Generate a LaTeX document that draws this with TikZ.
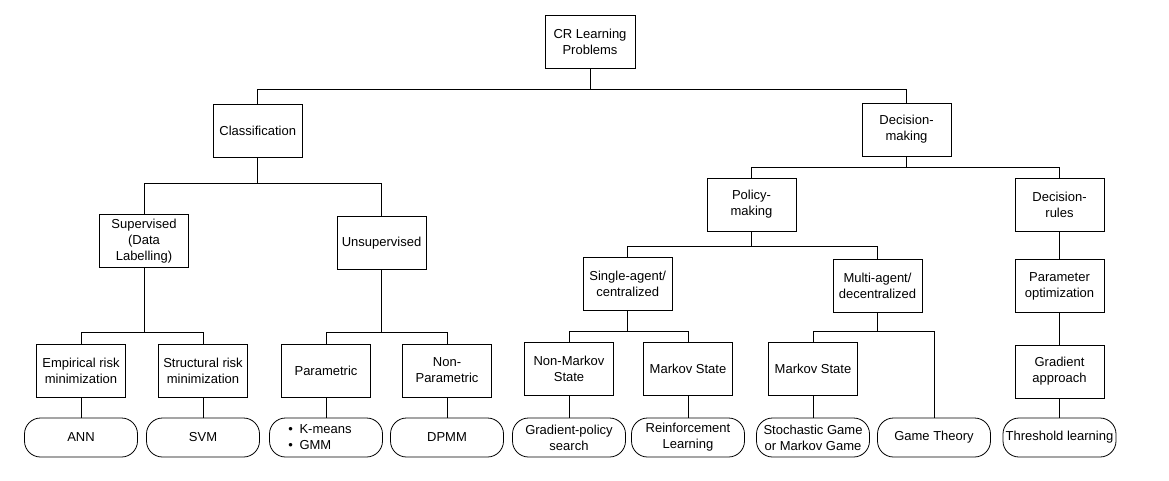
\documentclass[tikz,border=0pt]{standalone}
\usepackage{fontspec}
\setmainfont{Liberation Sans}
\begin{document}
\begin{tikzpicture}[x=1pt,y=-1pt,
  box/.style={draw, line width=0.8pt, minimum width=89pt, minimum height=53pt, inner sep=0pt, align=center, font=\fontsize{13}{16}\selectfont},
  leaf/.style={draw, line width=0.8pt, rounded corners=16pt, minimum width=113pt, minimum height=39pt, inner sep=0pt, align=center, font=\fontsize{13}{16}\selectfont},
  conn/.style={line width=0.8pt}]
\fill[white] (0,0) rectangle (1169,480);
\useasboundingbox (0,0) rectangle (1169,480);
% boxes
\node[box, minimum width=90pt] (root) at (590,41.5) {CR Learning\\Problems};
\node[box] (class) at (257.75,131) {Classification};
\node[box] (dm) at (906.5,129.5) {Decision-\\making};
\node[box] (sup) at (144,241) {Supervised\\(Data\\Labelling)};
\node[box] (unsup) at (381.5,243) {Unsupervised};
\node[box] (pm) at (751.5,204.5) {Policy-\\making};
\node[box] (dr) at (1059.5,204.5) {Decision-\\rules};
\node[box] (emp) at (81,370.5) {Empirical risk\\minimization};
\node[box] (str) at (203,370.5) {Structural risk\\minimization};
\node[box] (par) at (326,370.5) {Parametric};
\node[box] (nonpar) at (447,370.5) {Non-\\Parametric};
\node[box] (single) at (627.7,284) {Single-agent/\\centralized};
\node[box] (multi) at (877.5,286) {Multi-agent/\\decentralized};
\node[box] (paropt) at (1059.5,286) {Parameter\\optimization};
\node[box] (nonmarkov) at (569,369) {Non-Markov\\State};
\node[box] (markovA) at (688,369) {Markov State};
\node[box] (markovB) at (813,369) {Markov State};
\node[box] (gradapp) at (1059.5,371.5) {Gradient\\approach};
% leaves
\node[leaf] (ann) at (81,437.5) {ANN};
\node[leaf] (svm) at (203,437.5) {SVM};
\node[leaf, align=left] (kmeans) at (326,437.5) {\textbullet\enspace K-means\hspace*{12pt}\\\textbullet\enspace GMM};
\node[leaf] (dpmm) at (447,437.5) {DPMM};
\node[leaf] (gps) at (569,437.5) {Gradient-policy\\search};
\node[leaf] (rl) at (688,437.5) {Reinforcement\\Learning};
\node[leaf] (sg) at (813,437.5) {Stochastic Game\\or Markov Game};
\node[leaf] (gt) at (934,437.5) {Game Theory};
\node[leaf] (tl) at (1059.5,437.5) {Threshold learning};
% bus coordinates
\coordinate (b0) at (590,89);
\coordinate (b1) at (257.75,183);
\coordinate (b2) at (906.5,167);
\coordinate (b3) at (144,332);
\coordinate (b4) at (381.5,332);
\coordinate (b5) at (751.5,246);
\coordinate (b6) at (627.7,331);
\coordinate (b7) at (877.5,331);
% connectors
\draw[conn] (root.south) -- (b0) -| (class.north);
\draw[conn] (b0) -| (dm.north);
\draw[conn] (class.south) -- (b1) -| (sup.north);
\draw[conn] (b1) -| (unsup.north);
\draw[conn] (dm.south) -- (b2) -| (pm.north);
\draw[conn] (b2) -| (dr.north);
\draw[conn] (sup.south) -- (b3) -| (emp.north);
\draw[conn] (b3) -| (str.north);
\draw[conn] (unsup.south) -- (b4) -| (par.north);
\draw[conn] (b4) -| (nonpar.north);
\draw[conn] (pm.south) -- (b5) -| (single.north);
\draw[conn] (b5) -| (multi.north);
\draw[conn] (dr.south) -- (paropt.north);
\draw[conn] (single.south) -- (b6) -| (nonmarkov.north);
\draw[conn] (b6) -| (markovA.north);
\draw[conn] (multi.south) -- (b7) -| (markovB.north);
\draw[conn] (b7) -| (gt.north);
\draw[conn] (paropt.south) -- (gradapp.north);
\draw[conn] (emp.south) -- (ann.north);
\draw[conn] (str.south) -- (svm.north);
\draw[conn] (par.south) -- (kmeans.north);
\draw[conn] (nonpar.south) -- (dpmm.north);
\draw[conn] (nonmarkov.south) -- (gps.north);
\draw[conn] (markovA.south) -- (rl.north);
\draw[conn] (markovB.south) -- (sg.north);
\draw[conn] (gradapp.south) -- (tl.north);
\end{tikzpicture}
\end{document}
